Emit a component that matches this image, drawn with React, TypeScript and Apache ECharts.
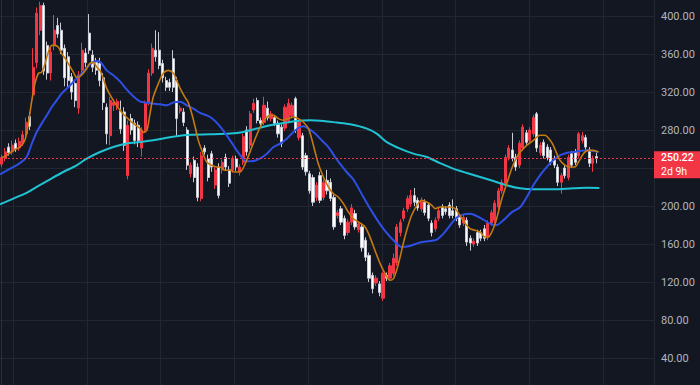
import React, { useEffect, useRef } from "react";
import * as echarts from "echarts";

// [open, close, low, high]
const candles: number[][] = [
  [244,251,241,254],[250,257,247,261],[262,256,253,266],[257,264,254,269],[266,260,257,270],
  [261,268,258,272],[266,275,263,279],[276,288,272,293],[294,284,280,299],[317,346,312,366],
  [351,403,345,409],[385,411,380,415],[411,342,338,414],[369,340,333,373],[340,362,332,368],
  [369,385,364,401],[390,381,377,398],[385,364,360,393],[366,335,326,370],[357,332,325,362],
  [336,320,312,340],[329,311,304,333],[303,338,297,342],[343,364,340,372],[361,351,346,366],
  [382,364,360,402],[359,346,341,364],[351,343,338,356],[350,332,326,356],[335,309,301,340],
  [304,276,265,308],[274,311,264,315],[306,309,300,312],[305,310,301,313],[300,281,276,311],
  [299,264,258,304],[232,285,228,290],[292,280,275,297],[287,269,265,291],[285,269,262,289],
  [261,280,252,283],[280,308,277,311],[309,340,306,344],[340,366,337,371],[364,357,352,385],
  [364,348,344,383],[350,335,330,354],[332,325,321,336],[330,325,321,334],[355,325,320,364],
  [332,292,274,336],[300,303,297,306],[299,288,284,303],[280,243,238,283],[234,243,230,246],
  [248,230,225,252],[241,209,205,245],[208,253,205,257],[261,257,254,264],[250,230,226,254],
  [255,241,236,258],[222,238,218,242],[241,211,208,245],[238,246,234,249],[251,241,237,255],
  [238,224,220,242],[238,250,235,253],[250,241,237,253],[236,241,232,244],[246,273,243,276],
  [280,257,253,284],[264,297,260,300],[301,308,298,313],[311,290,287,314],[290,287,284,293],
  [288,306,285,315],[303,293,290,310],[292,297,289,300],[293,287,284,296],[287,276,272,290],
  [283,266,262,286],[282,304,279,307],[290,308,287,313],[295,306,292,309],[313,280,277,315],
  [272,288,269,291],[274,241,238,277],[253,236,232,256],[234,216,213,237],[230,204,200,233],
  [209,222,205,225],[232,206,203,236],[209,225,206,228],[227,216,212,238],[225,208,205,229],
  [209,178,175,212],[190,193,187,196],[197,183,180,200],[187,169,165,190],[172,183,169,186],
  [183,198,180,202],[192,178,175,196],[175,181,172,184],[178,156,152,182],[164,146,142,167],
  [148,124,120,151],[127,113,108,130],[119,124,116,127],[118,109,105,121],[103,129,100,131],
  [127,124,121,130],[124,137,121,140],[129,145,126,150],[140,178,137,181],[172,183,168,186],
  [187,195,184,198],[197,208,194,211],[202,211,199,217],[211,204,200,219],[206,198,195,209],
  [197,206,194,209],[204,193,190,207],[201,187,184,204],[182,172,168,185],[176,185,173,188],
  [187,195,184,198],[199,190,187,202],[197,194,191,200],[201,190,187,204],[195,190,187,207],
  [197,187,184,200],[188,180,177,191],[182,188,179,191],[185,162,158,188],[166,161,153,169],
  [160,163,157,166],[172,161,158,175],[172,166,163,175],[176,166,163,180],[167,182,164,185],
  [182,193,179,196],[185,203,182,206],[199,216,196,219],[216,225,213,228],[224,251,221,254],
  [251,261,248,264],[259,250,247,277],[251,241,237,255],[243,266,240,269],[261,283,258,286],
  [277,267,264,280],[269,280,266,283],[276,293,273,296],[297,261,257,299],[256,264,253,267],
  [267,253,250,270],[262,251,248,265],[259,246,243,262],[250,243,240,253],[241,225,221,244],
  [225,232,213,235],[240,232,229,243],[230,251,227,254],[255,243,240,258],[257,246,243,260],
  [253,276,250,278],[269,274,266,278],[272,262,259,275],[259,245,241,262],[245,250,236,253],
  [252,250.22,245,256],
];

const categoryCount = 187;
const categories = Array.from({ length: categoryCount }, (_, i) => String(i));

// moving averages as [bar index, value]
const maFast: number[][] = [
  [0,251],[1.4,253.3],[3.3,258.6],[5.2,262.1],[6.6,269.1],[7.6,287],[8.6,311.2],[9.5,329.1],[10.5,339.7],
  [11.4,340.7],[12.4,350.2],[13.3,361.8],[14.3,369.1],[15.2,369.1],[16.2,367],[17.1,360.7],[18.1,355.5],
  [19,350.2],[20.5,340.7],[21.4,335.5],[22.4,336.5],[23.3,339.7],[24.3,344.9],[25.2,350.2],[26.2,351.2],
  [27.2,346],[28.1,342.8],[29,334.4],[30,323.9],[31.9,311.2],[33.8,300.7],[35.7,293.3],[37.6,287],
  [39.5,281.8],[40.5,277.5],[41.5,279.7],[42.4,297.6],[43.3,314.4],[44.8,329.1],[46.2,339.7],[47.6,342.8],
  [49.1,339.7],[50,332.3],[51,323.9],[52.4,314.4],[53.3,309.1],[54.3,297.6],[55.3,283.1],[56.2,269.1],
  [57.2,258.6],[58.6,246.3],[60,242.8],[61.5,241],[62.4,241],[63.8,237.6],[65.3,237.6],[66.7,235.8],
  [68.1,235.8],[70,248.1],[71.9,265.7],[73.9,283.1],[75.8,293.7],[77.7,295.4],[79.1,292],[80.5,290.2],
  [81.9,292],[83.4,293.7],[84.8,292],[86.2,288.4],[87.7,281.5],[88.6,271],[89.6,256.8],[90.5,244.6],
  [92,230.5],[93.4,220],[94.8,213],[96.2,209.5],[97.7,202.5],[99.1,193.7],[100.5,186.7],[102,183.1],
  [103.9,177.9],[105.3,167.3],[106.7,153.4],[108.2,139.3],[109.6,128.8],[111,121.8],[112,123.6],
  [112.9,132.3],[113.9,146.3],[114.8,160.4],[115.8,174.4],[117.2,190.2],[118.7,200.7],[120.1,206],
  [121.5,204.2],[123,200.7],[123.9,197.2],[125.3,198.9],[126.8,198.9],[128.2,198.9],[129.6,197.2],
  [131,190.2],[132.5,181.5],[133.9,176.2],[135.3,174.4],[136.8,172.6],[138.2,167.3],[139.1,167.3],
  [140.1,172.6],[141.1,181.5],[142,193.7],[143,207.8],[144.4,223.6],[145.8,239.3],[147.3,251.6],
  [148.7,258.6],[150.1,263.9],[152,269.1],[153.9,274.4],[155.3,274.4],[156.8,269.1],[157.7,263.9],
  [158.7,255.1],[159.6,248.1],[161.1,242.8],[162.5,241],[163.9,241],[164.9,246.3],[166.3,255.1],
  [167.7,258.6],[169.2,258.6],[170.6,256.8],
];

const maMid: number[][] = [
  [-0.5,233.3],[2.4,239.3],[5.2,245.2],[7.1,251.6],[8.6,265.7],[10,277.9],[11.4,286.7],[12.9,295.5],
  [14.3,304.2],[15.7,311.2],[17.1,318.3],[18.6,323.6],[20,328.8],[21.4,334.1],[23.3,341],[24.8,347.3],
  [26.2,351.6],[27.6,352.6],[28.6,349.9],[30,342.8],[31.9,337.6],[33.8,331.2],[35.7,322.8],[37.6,315.5],
  [39.5,310.2],[41.5,308.6],[43.3,307.8],[45.3,307],[47.2,306],[49.1,309.1],[51,309.7],[52.9,306],
  [54.8,302.5],[56.7,298.1],[59.6,293.7],[62.4,283.9],[65.3,269.1],[67.2,258.6],[68.6,251.6],[70,247],
  [71.9,247.3],[73.8,249.9],[75.8,255.1],[77.7,262.1],[79.6,265.7],[81.5,270.9],[83.4,277.9],[84.8,282.1],
  [86.2,283.9],[87.7,281.5],[89.6,276.2],[91.5,269.1],[93.4,262.1],[95.3,251.6],[96.7,244.6],[98.6,235.8],
  [100.5,228.1],[103.4,209.5],[106.2,192],[109.1,176.2],[112,163.9],[114.4,156.8],[116.7,157.9],
  [119.6,161.5],[122.5,163.1],[124.4,164.6],[126.3,170.9],[128.2,179.7],[130.1,187.8],[132,191.2],
  [133.9,191.8],[136.8,187.6],[139.6,181.5],[141.5,180],[143.4,184.9],[145.8,193.3],[148.2,198.6],
  [150.1,209.1],[152,221.8],[153.9,232.3],[155.8,241],[157.7,248.1],[159.6,253.3],[161.5,255.8],
  [163.4,256.8],[165.4,257.9],[167.3,258.6],[169.2,257.9],[170.6,256.8],
];

const maSlow: number[][] = [
  [-0.5,201.8],[3.3,207.8],[7.1,213.9],[10,220.2],[13.8,228.1],[17.6,235.8],[21.4,242.8],[24.3,249.9],
  [28.1,256.8],[31.9,262.1],[35.7,265.7],[39.5,267.3],[43.3,269.1],[47.2,271.8],[51,273.9],[53.8,275.1],
  [59.6,275.5],[65.3,276.2],[69.1,277.9],[72.9,281.5],[76.7,284.9],[80.5,287.3],[84.3,289.5],[88.1,290.2],
  [92,289.5],[95.8,287.8],[99.6,286],[104.4,281.5],[107.2,276.2],[110.1,267.3],[113.9,260.4],[117.7,255.1],
  [121.5,251.6],[125.3,245.2],[129.1,239.3],[133,234.7],[136.8,230.5],[140.6,226.3],[144.4,221.8],
  [148.2,218.6],[152,217.6],[157.7,217.6],[163.4,218.6],[167.3,219.1],[170.9,218.9],
];

const lastPrice = 250.22;
const countdown = "2d 9h";

const BG = "#131722";
const GRID = "#222631";
const RED = "#f23645";
const FONT = "Roboto, 'Noto Sans', sans-serif";

export default function App() {
  const ref = useRef<HTMLDivElement>(null);

  useEffect(() => {
    if (!ref.current) return;
    const chart = echarts.init(ref.current, undefined, { renderer: "svg" });
    const option: any = {
      animation: false,
      backgroundColor: BG,
      grid: [
        { left: 0, right: 46, top: 0, bottom: 0, outerBoundsMode: "none", containLabel: false },
        { left: 13, right: 46, top: 0, bottom: 0, outerBoundsMode: "none", containLabel: false },
      ],
      xAxis: [
        {
          type: "category", gridIndex: 0, data: categories, boundaryGap: true,
          axisLine: { show: false }, axisTick: { show: false }, axisLabel: { show: false },
          splitLine: { show: false },
        },
        {
          type: "value", gridIndex: 1, min: 0, max: 641, interval: 73.75,
          axisLine: { show: false }, axisTick: { show: false }, axisLabel: { show: false },
          splitLine: { show: true, lineStyle: { color: GRID, width: 1 } },
        },
        { type: "value", gridIndex: 0, min: -0.5, max: categoryCount - 0.5, show: false },
      ],
      yAxis: [
        {
          type: "value", gridIndex: 0, position: "right", min: 0, max: 440, interval: 40,
          axisLine: { show: true, lineStyle: { color: "#2a2e39" } },
          axisTick: { show: false },
          axisLabel: {
            color: "#b2b5be", fontSize: 11, fontFamily: FONT, margin: 7,
            showMinLabel: false, showMaxLabel: false,
            formatter: (v: number) => v.toFixed(2),
          },
          splitLine: { show: true, lineStyle: { color: GRID, width: 1 } },
        },
        { type: "value", gridIndex: 1, show: false, splitLine: { show: false } },
      ],
      series: [
        {
          type: "candlestick",
          xAxisIndex: 0, yAxisIndex: 0,
          data: candles,
          barWidth: 2.6,
          itemStyle: {
            color: RED, color0: "#ffffff",
            borderColor: RED, borderColor0: "#c9ccd4", borderWidth: 1,
          },
        },
        {
          type: "line", xAxisIndex: 2, yAxisIndex: 0, data: maSlow, smooth: 0.3,
          showSymbol: false, lineStyle: { color: "#1fc3d3", width: 2 },
          itemStyle: { color: "#1fc3d3" },
          markLine: {
            silent: true, symbol: ["none", "none"],
            label: { show: false },
            itemStyle: { color: RED },
            lineStyle: { color: RED, type: [2, 2], width: 1, opacity: 1 },
            emphasis: { disabled: true },
            data: [{ yAxis: lastPrice }],
          },
        },
        {
          type: "line", xAxisIndex: 2, yAxisIndex: 0, data: maMid, smooth: 0.3,
          showSymbol: false, lineStyle: { color: "#2d4fe6", width: 2 },
        },
        {
          type: "line", xAxisIndex: 2, yAxisIndex: 0, data: maFast, smooth: 0.3,
          showSymbol: false, lineStyle: { color: "#c47a0e", width: 1.6 },
        },
      ],
    };
    chart.setOption(option);
    const py = chart.convertToPixel({ yAxisIndex: 0 } as any, lastPrice) as number;
    chart.setOption({
      graphic: [
        { type: "rect", z: 100, shape: { x: 654, y: py - 7, width: 46, height: 27 }, style: { fill: RED } },
        {
          type: "text", z: 101, x: 661, y: py - 6.3,
          style: { text: lastPrice.toFixed(2), fill: "#ffffff", font: `500 10.5px ${FONT}` },
        },
        {
          type: "text", z: 101, x: 661, y: py + 8,
          style: { text: countdown, fill: "#ffffff", font: `10.5px ${FONT}` },
        },
      ],
    });
    return () => chart.dispose();
  }, []);

  // The plot is taller than the window so that the price scale (0 to 440) is
  // partly cropped at the top and bottom, as in the reference.
  return (
    <div
      ref={ref}
      style={{ position: "fixed", left: 0, top: -22.3, width: 700, height: 418 }}
    />
  );
}
